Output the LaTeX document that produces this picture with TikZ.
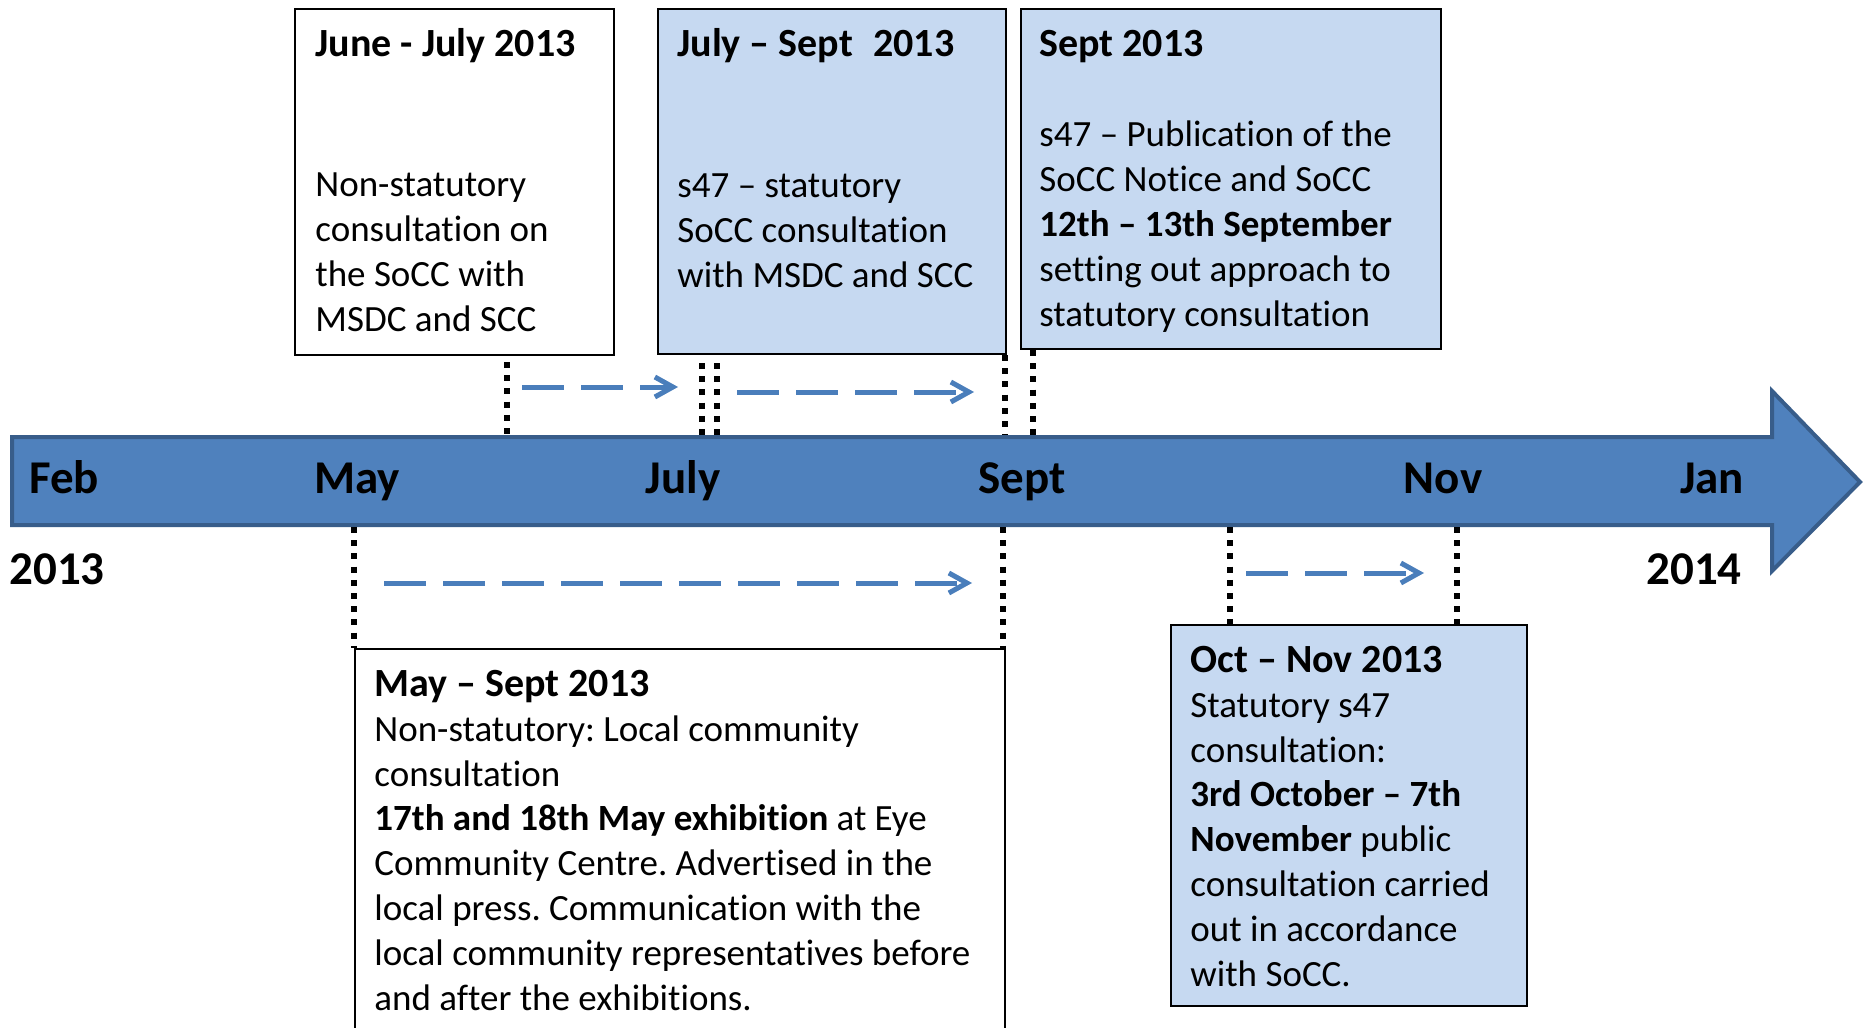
\documentclass[tikz,border=0pt]{standalone}
\usepackage{fontspec}
\setmainfont[Ligatures={TeX,NoCommon}]{Carlito}
\frenchspacing
\usepackage{tikz}
\usetikzlibrary{calc,positioning,arrows.meta}
\definecolor{barblue}{HTML}{4F81BD}
\definecolor{baredge}{HTML}{385D8A}
\definecolor{paleblue}{HTML}{C6D9F1}
\definecolor{spanblue}{HTML}{4A7EBB}
\tikzset{
  plainbox/.style={draw=black,line width=1pt,fill=white,anchor=north west,inner sep=0pt},
  bluebox/.style={plainbox,fill=paleblue},
  headtext/.style={anchor=base west,inner sep=0pt,font=\fontsize{20}{22.4}\selectfont\bfseries},
  bodytext/.style={anchor=base west,inner sep=0pt,align=left,font=\fontsize{18.5}{22.4}\selectfont},
  monthlabel/.style={anchor=base,inner sep=0pt,font=\fontsize{23.5}{28}\selectfont\bfseries},
  dotline/.style={line width=3pt,dash pattern=on 3pt off 3.6pt},
  spanarrow/.style={line width=2.5pt,draw=spanblue,dash pattern=on 21pt off 8.5pt,
    -{Straight Barb[length=9pt,width=10pt]}},
}
\newcommand{\heading}[1]{{\fontsize{20}{22.4}\selectfont\bfseries #1}}

\begin{document}
\begin{tikzpicture}[x=0.5pt,y=0.5pt]
  \useasboundingbox (0,0) rectangle (1866,-1027);

  % time bar
  \draw[line width=2pt,draw=baredge,fill=barblue] (12,-437) -- (1772,-437) -- (1772,-391)
    -- (1860,-482) -- (1772,-571) -- (1772,-525) -- (12,-525) -- cycle;
  \node[monthlabel] (feb) at (64,-493) {Feb};
  \node[monthlabel] (may) at (357,-493) {May};
  \node[monthlabel] (jul) at (683,-493) {July};
  \node[monthlabel] (sep) at (1022,-493) {Sept};
  \node[monthlabel] (nov) at (1443,-493) {Nov};
  \node[monthlabel] (jan) at (1712,-493) {Jan};
  \node[monthlabel] (y13) at (57,-584) {2013};
  \node[monthlabel] (y14) at (1694,-584) {2014};

  % boxes above the bar
  \node[plainbox,minimum width=159.5pt,minimum height=173pt] (june) at (294,-8) {};
  \node[headtext] (juneh) at ($(june.north west)+(21,-49)$) {June - July 2013};
  \node[bodytext] (juneb) at ($(june.north west)+(21,-323)$) {Non-statutory\\consultation on\\the SoCC with\\MSDC and SCC};

  \node[bluebox,minimum width=174pt,minimum height=172.5pt] (julsep) at (657,-8) {};
  \node[headtext] (julseph) at ($(julsep.north west)+(20,-49)$) {July -- Sept\enspace 2013};
  \node[bodytext] (julsepb) at ($(julsep.north west)+(20,-279)$) {s47 -- statutory\\SoCC consultation\\with MSDC and SCC};

  \node[bluebox,minimum width=210pt,minimum height=170pt] (sept) at (1020,-8) {};
  \node[headtext] (septh) at ($(sept.north west)+(19,-49)$) {Sept 2013};
  \node[bodytext] (septb) at ($(sept.north west)+(19,-318)$) {s47 -- Publication of the\\SoCC Notice and SoCC\\\textbf{12th -- 13th September}\\setting out approach to\\statutory consultation};

  % boxes below the bar
  \node[plainbox,minimum width=325pt,minimum height=193.5pt] (maysep) at (354,-648) {};
  \node[bodytext] (maysepb) at ($(maysep.north west)+(20,-362)$) {\heading{May -- Sept 2013}\\Non-statutory: Local community\\consultation\\\textbf{17th and 18th May exhibition} at Eye\\Community Centre. Advertised in the\\local press. Communication with the\\local community representatives before\\and after the exhibitions.};

  \node[bluebox,minimum width=178pt,minimum height=190.5pt] (octnov) at (1170,-624) {};
  \node[bodytext] (octnovb) at ($(octnov.north west)+(20,-362)$) {\heading{Oct -- Nov 2013}\\Statutory s47\\consultation:\\\textbf{3rd October -- 7th}\\\textbf{November} public\\consultation carried\\out in accordance\\with SoCC.};

  % marks on the bar
  \coordinate (m1) at (507,-435);
  \coordinate (m2) at (702,-435);
  \coordinate (m3) at (717,-435);
  \coordinate (m4) at (1005,-435);
  \coordinate (m5) at (1033,-435);
  \coordinate (m6) at (354,-527);
  \coordinate (m7) at (1003,-527);
  \coordinate (m8) at (1230,-527);
  \coordinate (m9) at (1457,-527);
  \draw[dotline] ([yshift=-3pt]m1 |- june.south) -- (m1);
  \draw[dotline] ([yshift=-4pt]m2 |- julsep.south) -- (m2);
  \draw[dotline] ([yshift=-4pt]m3 |- julsep.south) -- (m3);
  \draw[dotline] (m4 |- julsep.south) -- (m4);
  \draw[dotline] (m5 |- sept.south) -- (m5);
  \draw[dotline] (m6) -- (m6 |- maysep.north);
  \draw[dotline] (m7) -- (m7 |- maysep.north);
  \draw[dotline] (m8) -- (m8 |- octnov.north);
  \draw[dotline] (m9) -- (m9 |- octnov.north);

  % spans
  \coordinate (s1) at (522,-387);
  \coordinate (e1) at (678,-387);
  \coordinate (s2) at (737,-392);
  \coordinate (e2) at (974,-392);
  \coordinate (s3) at (384,-583);
  \coordinate (e3) at (972,-583);
  \coordinate (s4) at (1246,-573);
  \coordinate (e4) at (1424,-573);
  \draw[spanarrow] (s1) -- (e1);
  \draw[spanarrow] (s2) -- (e2);
  \draw[spanarrow] (s3) -- (e3);
  \draw[spanarrow] (s4) -- (e4);
\end{tikzpicture}
\end{document}
